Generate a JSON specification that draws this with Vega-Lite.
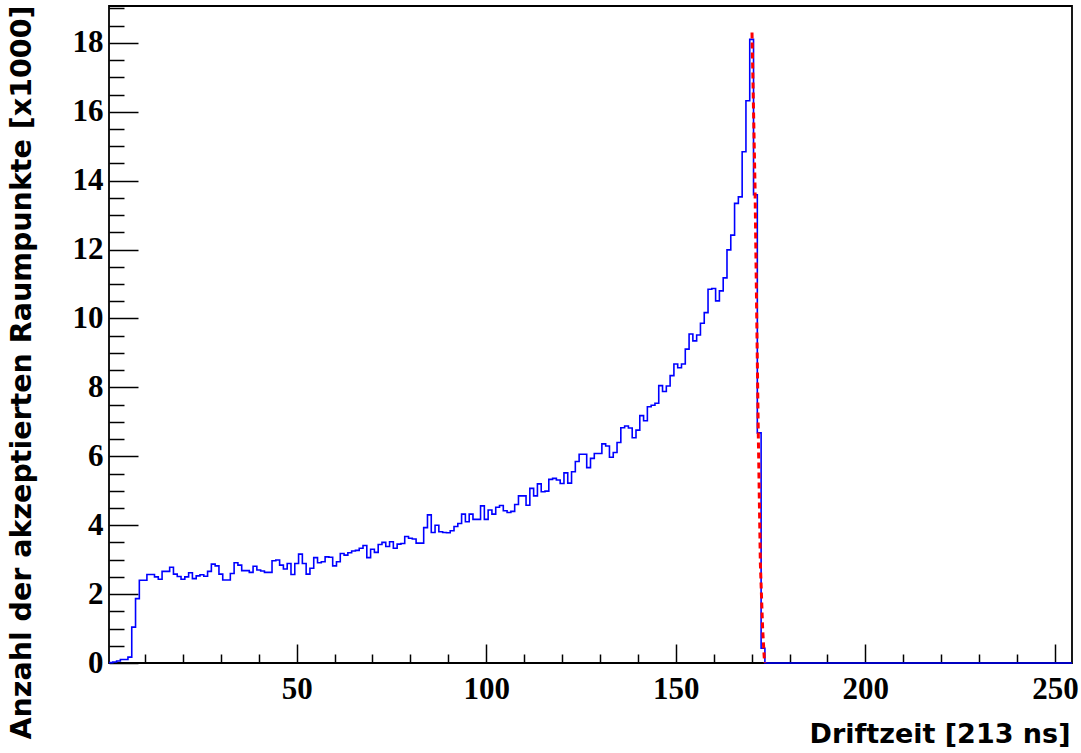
{
  "$schema": "https://vega.github.io/schema/vega-lite/v6.json",
  "width": 963,
  "height": 657,
  "autosize": {"type": "none"},
  "padding": {"left": 109, "top": 6, "right": 9, "bottom": 90},
  "background": "white",
  "config": {
    "view": {"stroke": "black", "strokeWidth": 1.8},
    "axis": {"grid": false, "domain": false, "tickColor": "black", "tickWidth": 1.5, "labelColor": "black", "titleColor": "black"}
  },
  "datasets": {
    "hist": [
      {"lo": 0.5, "n": 0.01}, {"lo": 1.5, "n": 0.03}, {"lo": 2.5, "n": 0.06}, {"lo": 3.5, "n": 0.10}, {"lo": 4.5, "n": 0.10},
      {"lo": 5.5, "n": 0.17}, {"lo": 6.5, "n": 1.04}, {"lo": 7.5, "n": 1.87}, {"lo": 8.5, "n": 2.40}, {"lo": 9.5, "n": 2.40},
      {"lo": 10.5, "n": 2.57}, {"lo": 11.5, "n": 2.57}, {"lo": 12.5, "n": 2.50}, {"lo": 13.5, "n": 2.43}, {"lo": 14.5, "n": 2.66},
      {"lo": 15.5, "n": 2.66}, {"lo": 16.5, "n": 2.78}, {"lo": 17.5, "n": 2.58}, {"lo": 18.5, "n": 2.51}, {"lo": 19.5, "n": 2.43},
      {"lo": 20.5, "n": 2.50}, {"lo": 21.5, "n": 2.62}, {"lo": 22.5, "n": 2.45}, {"lo": 23.5, "n": 2.53}, {"lo": 24.5, "n": 2.56},
      {"lo": 25.5, "n": 2.52}, {"lo": 26.5, "n": 2.66}, {"lo": 27.5, "n": 2.87}, {"lo": 28.5, "n": 2.82}, {"lo": 29.5, "n": 2.58},
      {"lo": 30.5, "n": 2.41}, {"lo": 31.5, "n": 2.41}, {"lo": 32.5, "n": 2.60}, {"lo": 33.5, "n": 2.91}, {"lo": 34.5, "n": 2.84},
      {"lo": 35.5, "n": 2.68}, {"lo": 36.5, "n": 2.68}, {"lo": 37.5, "n": 2.63}, {"lo": 38.5, "n": 2.81}, {"lo": 39.5, "n": 2.70},
      {"lo": 40.5, "n": 2.67}, {"lo": 41.5, "n": 2.63}, {"lo": 42.5, "n": 2.63}, {"lo": 43.5, "n": 2.97}, {"lo": 44.5, "n": 2.99},
      {"lo": 45.5, "n": 2.84}, {"lo": 46.5, "n": 2.73}, {"lo": 47.5, "n": 2.89}, {"lo": 48.5, "n": 2.57}, {"lo": 49.5, "n": 2.89},
      {"lo": 50.5, "n": 3.16}, {"lo": 51.5, "n": 2.89}, {"lo": 52.5, "n": 2.58}, {"lo": 53.5, "n": 2.75}, {"lo": 54.5, "n": 3.06},
      {"lo": 55.5, "n": 2.91}, {"lo": 56.5, "n": 2.94}, {"lo": 57.5, "n": 3.08}, {"lo": 58.5, "n": 3.07}, {"lo": 59.5, "n": 2.82},
      {"lo": 60.5, "n": 2.94}, {"lo": 61.5, "n": 3.18}, {"lo": 62.5, "n": 3.13}, {"lo": 63.5, "n": 3.20}, {"lo": 64.5, "n": 3.25},
      {"lo": 65.5, "n": 3.27}, {"lo": 66.5, "n": 3.33}, {"lo": 67.5, "n": 3.41}, {"lo": 68.5, "n": 3.06}, {"lo": 69.5, "n": 3.30},
      {"lo": 70.5, "n": 3.21}, {"lo": 71.5, "n": 3.44}, {"lo": 72.5, "n": 3.50}, {"lo": 73.5, "n": 3.38}, {"lo": 74.5, "n": 3.52},
      {"lo": 75.5, "n": 3.33}, {"lo": 76.5, "n": 3.45}, {"lo": 77.5, "n": 3.47}, {"lo": 78.5, "n": 3.67}, {"lo": 79.5, "n": 3.62},
      {"lo": 80.5, "n": 3.60}, {"lo": 81.5, "n": 3.48}, {"lo": 82.5, "n": 3.48}, {"lo": 83.5, "n": 3.93}, {"lo": 84.5, "n": 4.30},
      {"lo": 85.5, "n": 3.79}, {"lo": 86.5, "n": 4.00}, {"lo": 87.5, "n": 3.81}, {"lo": 88.5, "n": 3.79}, {"lo": 89.5, "n": 3.78},
      {"lo": 90.5, "n": 3.84}, {"lo": 91.5, "n": 3.96}, {"lo": 92.5, "n": 4.05}, {"lo": 93.5, "n": 4.32}, {"lo": 94.5, "n": 4.10},
      {"lo": 95.5, "n": 4.32}, {"lo": 96.5, "n": 4.17}, {"lo": 97.5, "n": 4.17}, {"lo": 98.5, "n": 4.56}, {"lo": 99.5, "n": 4.17},
      {"lo": 100.5, "n": 4.44}, {"lo": 101.5, "n": 4.32}, {"lo": 102.5, "n": 4.52}, {"lo": 103.5, "n": 4.57}, {"lo": 104.5, "n": 4.42},
      {"lo": 105.5, "n": 4.37}, {"lo": 106.5, "n": 4.40}, {"lo": 107.5, "n": 4.60}, {"lo": 108.5, "n": 4.85}, {"lo": 109.5, "n": 4.85},
      {"lo": 110.5, "n": 4.58}, {"lo": 111.5, "n": 5.07}, {"lo": 112.5, "n": 4.85}, {"lo": 113.5, "n": 5.20}, {"lo": 114.5, "n": 4.97},
      {"lo": 115.5, "n": 4.99}, {"lo": 116.5, "n": 5.33}, {"lo": 117.5, "n": 5.36}, {"lo": 118.5, "n": 5.31}, {"lo": 119.5, "n": 5.21},
      {"lo": 120.5, "n": 5.52}, {"lo": 121.5, "n": 5.22}, {"lo": 122.5, "n": 5.55}, {"lo": 123.5, "n": 5.85}, {"lo": 124.5, "n": 6.06},
      {"lo": 125.5, "n": 6.06}, {"lo": 126.5, "n": 5.67}, {"lo": 127.5, "n": 5.94}, {"lo": 128.5, "n": 6.08}, {"lo": 129.5, "n": 6.08},
      {"lo": 130.5, "n": 6.36}, {"lo": 131.5, "n": 6.30}, {"lo": 132.5, "n": 5.97}, {"lo": 133.5, "n": 6.11}, {"lo": 134.5, "n": 6.40},
      {"lo": 135.5, "n": 6.83}, {"lo": 136.5, "n": 6.88}, {"lo": 137.5, "n": 6.82}, {"lo": 138.5, "n": 6.54}, {"lo": 139.5, "n": 6.76},
      {"lo": 140.5, "n": 7.18}, {"lo": 141.5, "n": 7.03}, {"lo": 142.5, "n": 7.44}, {"lo": 143.5, "n": 7.48}, {"lo": 144.5, "n": 7.54},
      {"lo": 145.5, "n": 8.05}, {"lo": 146.5, "n": 7.88}, {"lo": 147.5, "n": 8.04}, {"lo": 148.5, "n": 8.34}, {"lo": 149.5, "n": 8.68},
      {"lo": 150.5, "n": 8.57}, {"lo": 151.5, "n": 8.68}, {"lo": 152.5, "n": 9.11}, {"lo": 153.5, "n": 9.55}, {"lo": 154.5, "n": 9.35},
      {"lo": 155.5, "n": 9.52}, {"lo": 156.5, "n": 9.86}, {"lo": 157.5, "n": 10.17}, {"lo": 158.5, "n": 10.85}, {"lo": 159.5, "n": 10.87},
      {"lo": 160.5, "n": 10.51}, {"lo": 161.5, "n": 10.80}, {"lo": 162.5, "n": 11.18}, {"lo": 163.5, "n": 11.99}, {"lo": 164.5, "n": 12.42},
      {"lo": 165.5, "n": 13.34}, {"lo": 166.5, "n": 13.53}, {"lo": 167.5, "n": 14.84}, {"lo": 168.5, "n": 16.32}, {"lo": 169.5, "n": 18.10},
      {"lo": 170.5, "n": 13.59}, {"lo": 171.5, "n": 6.68}, {"lo": 172.5, "n": 0.43}, {"lo": 173.5, "n": 0}, {"lo": 174.5, "n": 0},
      {"lo": 175.5, "n": 0}, {"lo": 176.5, "n": 0}, {"lo": 177.5, "n": 0}, {"lo": 178.5, "n": 0}, {"lo": 179.5, "n": 0},
      {"lo": 180.5, "n": 0}, {"lo": 181.5, "n": 0}, {"lo": 182.5, "n": 0}, {"lo": 183.5, "n": 0}, {"lo": 184.5, "n": 0},
      {"lo": 185.5, "n": 0}, {"lo": 186.5, "n": 0}, {"lo": 187.5, "n": 0}, {"lo": 188.5, "n": 0}, {"lo": 189.5, "n": 0},
      {"lo": 190.5, "n": 0}, {"lo": 191.5, "n": 0}, {"lo": 192.5, "n": 0}, {"lo": 193.5, "n": 0}, {"lo": 194.5, "n": 0},
      {"lo": 195.5, "n": 0}, {"lo": 196.5, "n": 0}, {"lo": 197.5, "n": 0}, {"lo": 198.5, "n": 0}, {"lo": 199.5, "n": 0},
      {"lo": 200.5, "n": 0}, {"lo": 201.5, "n": 0}, {"lo": 202.5, "n": 0}, {"lo": 203.5, "n": 0}, {"lo": 204.5, "n": 0},
      {"lo": 205.5, "n": 0}, {"lo": 206.5, "n": 0}, {"lo": 207.5, "n": 0}, {"lo": 208.5, "n": 0}, {"lo": 209.5, "n": 0},
      {"lo": 210.5, "n": 0}, {"lo": 211.5, "n": 0}, {"lo": 212.5, "n": 0}, {"lo": 213.5, "n": 0}, {"lo": 214.5, "n": 0},
      {"lo": 215.5, "n": 0}, {"lo": 216.5, "n": 0}, {"lo": 217.5, "n": 0}, {"lo": 218.5, "n": 0}, {"lo": 219.5, "n": 0},
      {"lo": 220.5, "n": 0}, {"lo": 221.5, "n": 0}, {"lo": 222.5, "n": 0}, {"lo": 223.5, "n": 0}, {"lo": 224.5, "n": 0},
      {"lo": 225.5, "n": 0}, {"lo": 226.5, "n": 0}, {"lo": 227.5, "n": 0}, {"lo": 228.5, "n": 0}, {"lo": 229.5, "n": 0},
      {"lo": 230.5, "n": 0}, {"lo": 231.5, "n": 0}, {"lo": 232.5, "n": 0}, {"lo": 233.5, "n": 0}, {"lo": 234.5, "n": 0},
      {"lo": 235.5, "n": 0}, {"lo": 236.5, "n": 0}, {"lo": 237.5, "n": 0}, {"lo": 238.5, "n": 0}, {"lo": 239.5, "n": 0},
      {"lo": 240.5, "n": 0}, {"lo": 241.5, "n": 0}, {"lo": 242.5, "n": 0}, {"lo": 243.5, "n": 0}, {"lo": 244.5, "n": 0},
      {"lo": 245.5, "n": 0}, {"lo": 246.5, "n": 0}, {"lo": 247.5, "n": 0}, {"lo": 248.5, "n": 0}, {"lo": 249.5, "n": 0},
      {"lo": 250.5, "n": 0}, {"lo": 251.5, "n": 0}, {"lo": 252.5, "n": 0}, {"lo": 253.5, "n": 0}, {"lo": 254.5, "n": 0}
    ],
    "fit": [
      {"t": 170.1, "f": 18.3}, {"t": 170.9, "f": 13.8}, {"t": 171.4, "f": 9.6}, {"t": 171.75, "f": 6.7},
      {"t": 172.3, "f": 2.9}, {"t": 172.9, "f": 1.0}, {"t": 173.3, "f": 0.2}, {"t": 173.45, "f": 0.0}
    ]
  },
  "layer": [
    {
      "data": {"name": "hist"},
      "mark": {"type": "line", "interpolate": "step-after", "color": "#0000ff", "strokeWidth": 1.6},
      "encoding": {
        "x": {
          "field": "lo", "type": "quantitative",
          "scale": {"domain": [0.5, 254.5], "nice": false, "zero": false},
          "axis": {
            "orient": "bottom", "values": [50, 100, 150, 200, 250], "tickSize": -19,
            "labelFont": "Liberation Serif", "labelFontWeight": "bold", "labelFontSize": 31, "labelPadding": 30,
            "labelFlush": false, "labelOverlap": false,
            "title": "Driftzeit [213 ns]", "titleFont": "DejaVu Sans", "titleFontWeight": "bold", "titleFontSize": 27,
            "titleAlign": "right", "titleBaseline": "alphabetic", "titleX": 961, "titleY": 79, "titleAnchor": "end"
          }
        },
        "y": {
          "field": "n", "type": "quantitative",
          "scale": {"domain": [0, 19.07], "nice": false, "zero": true},
          "axis": {
            "orient": "left", "values": [0, 2, 4, 6, 8, 10, 12, 14, 16, 18], "tickSize": -29,
            "labelFont": "Liberation Serif", "labelFontWeight": "bold", "labelFontSize": 31, "labelPadding": 35,
            "labelFlush": false, "labelOverlap": false, "labelBaseline": "middle",
            "title": "Anzahl der akzeptierten Raumpunkte [x1000]", "titleFont": "DejaVu Sans", "titleFontWeight": "bold", "titleFontSize": 28.5,
            "titleAngle": -90, "titleAlign": "right", "titleBaseline": "alphabetic", "titleX": -79, "titleY": -1, "titleAnchor": "end"
          }
        }
      }
    },
    {
      "data": {"name": "fit"},
      "mark": {"type": "line", "color": "#ff0000", "strokeWidth": 3, "strokeDash": [6, 4]},
      "encoding": {
        "x": {
          "field": "t", "type": "quantitative",
          "axis": {
            "orient": "bottom", "values": [10, 20, 30, 40, 60, 70, 80, 90, 110, 120, 130, 140, 160, 170, 180, 190, 210, 220, 230, 240],
            "tickSize": -9, "labels": false, "title": null
          }
        },
        "y": {
          "field": "f", "type": "quantitative",
          "axis": {
            "orient": "left", "values": [0.5, 1, 1.5, 2.5, 3, 3.5, 4.5, 5, 5.5, 6.5, 7, 7.5, 8.5, 9, 9.5, 10.5, 11, 11.5, 12.5, 13, 13.5, 14.5, 15, 15.5, 16.5, 17, 17.5, 18.5, 19],
            "tickSize": -15, "labels": false, "title": null
          }
        }
      }
    }
  ],
  "resolve": {"axis": {"x": "independent", "y": "independent"}}
}
